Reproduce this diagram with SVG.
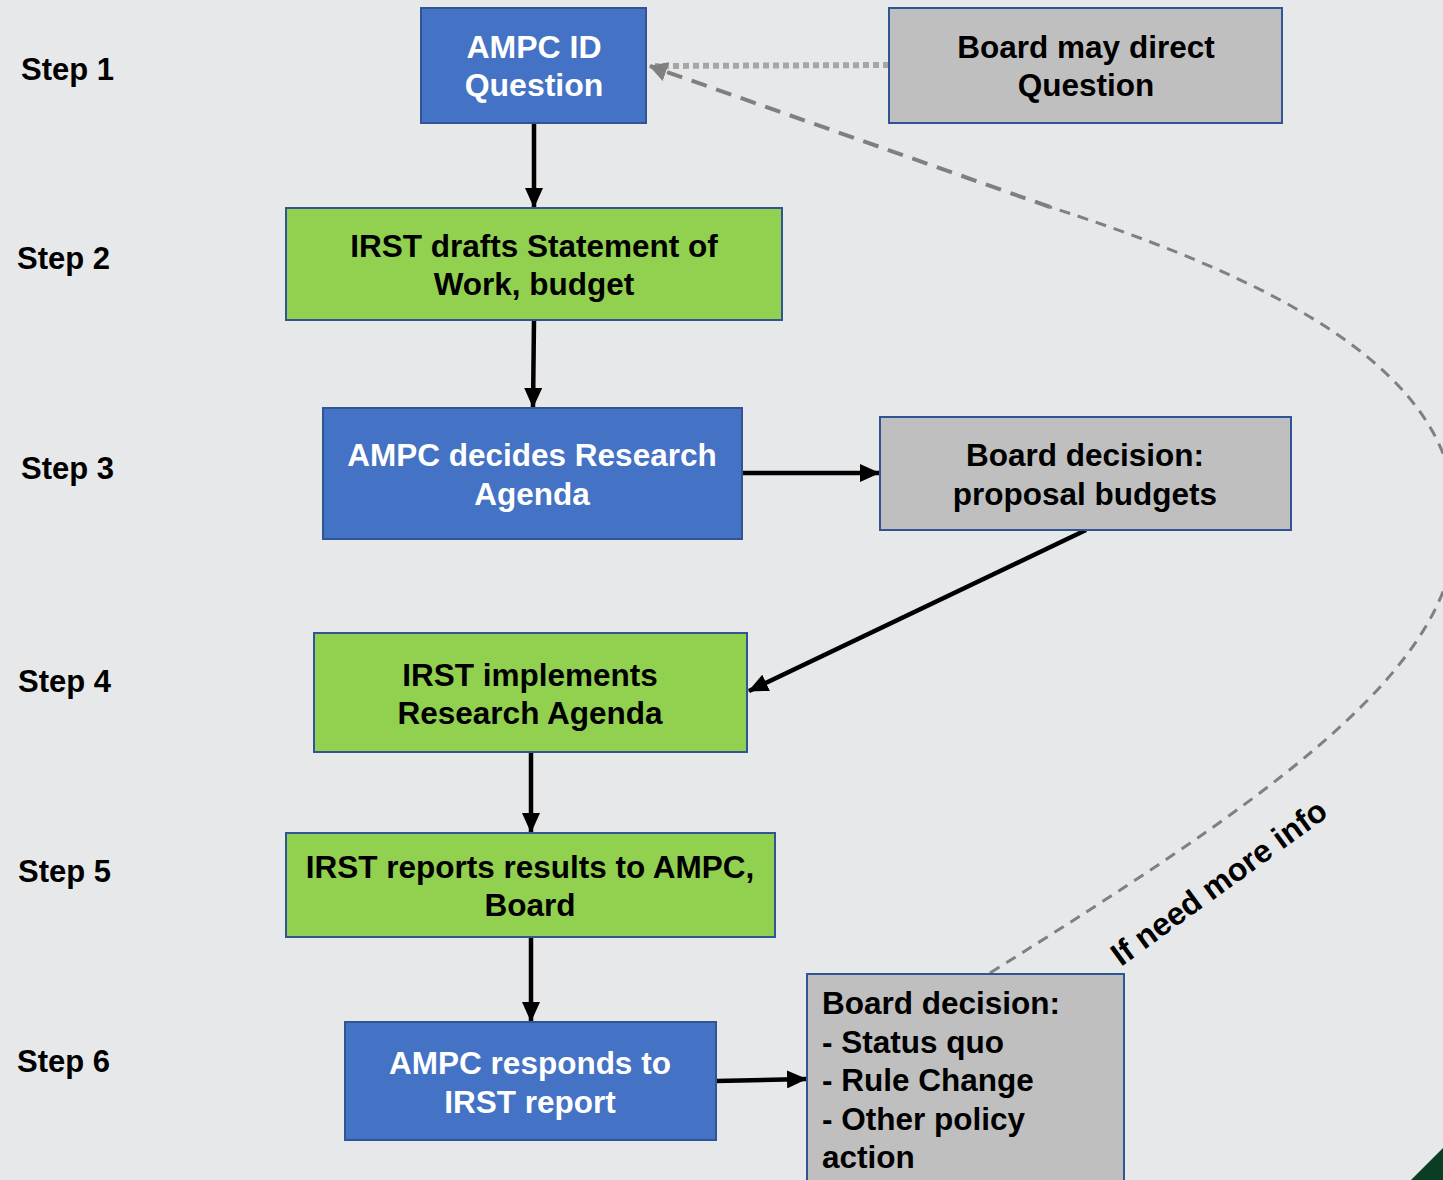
<svg xmlns="http://www.w3.org/2000/svg" width="1443" height="1180" viewBox="0 0 1443 1180">
<defs>
<style>
.t{font-family:"Liberation Sans",Arial,sans-serif;font-weight:bold;font-size:31.5px;text-anchor:middle}
.w{fill:#ffffff}
.k{fill:#000000}
.step{font-family:"Liberation Sans",Arial,sans-serif;font-weight:bold;font-size:31px;fill:#000}
.blue{fill:#4472c4;stroke:#2f5597;stroke-width:2}
.green{fill:#92d050;stroke:#2f5597;stroke-width:2}
.gray{fill:#bfbfbf;stroke:#2f5597;stroke-width:2}
.arr{stroke:#000;stroke-width:4.5;fill:none;marker-end:url(#ah)}
</style>
<marker id="ah" markerUnits="userSpaceOnUse" markerWidth="20" markerHeight="18" refX="19" refY="9" orient="auto">
<path d="M0,0 L20,9 L0,18 Z" fill="#000"/>
</marker>
<marker id="gh" markerUnits="userSpaceOnUse" markerWidth="18" markerHeight="20" refX="17" refY="10" orient="auto">
<path d="M0,0 L18,10 L0,20 Z" fill="#808080"/>
</marker>
</defs>
<rect x="0" y="0" width="1443" height="1180" fill="#e7e8ea"/>
<polygon points="1443,1148 1443,1180 1411,1180" fill="#0b3d24"/>

<g id="steps">
<text class="step" x="21" y="80">Step 1</text>
<text class="step" x="17" y="269">Step 2</text>
<text class="step" x="21" y="479">Step 3</text>
<text class="step" x="18" y="692">Step 4</text>
<text class="step" x="18" y="882">Step 5</text>
<text class="step" x="17" y="1072">Step 6</text>
</g>

<g id="connectors">
<path d="M889,65 L655,66" stroke="#a6a6a6" stroke-width="6" stroke-dasharray="6 4" fill="none"/>
<path d="M990,973 C1250,810 1445,680 1455,540 C1468,400 1340,300 1050,207" stroke="#808080" stroke-width="3" stroke-dasharray="11 8" fill="none"/>
<path d="M1050,207 L650,66" stroke="#7f7f7f" stroke-width="4" stroke-dasharray="16 10" fill="none" marker-end="url(#gh)"/>
<path class="arr" d="M534,123 L534,207"/>
<path class="arr" d="M534,320 L533,407"/>
<path class="arr" d="M742,473 L879,473"/>
<path class="arr" d="M1086,530 L749,691"/>
<path class="arr" d="M531,752 L531,832"/>
<path class="arr" d="M531,937 L531,1021"/>
<path class="arr" d="M716,1081 L806,1079"/>
<text class="t k" transform="translate(1121,967) rotate(-36)" style="text-anchor:start;font-size:32px">If need more info</text>
</g>

<g id="n1">
<rect class="blue" x="421" y="8" width="225" height="115"/>
<text class="t w" x="534" y="58" style="font-size:32px">AMPC ID</text>
<text class="t w" x="534" y="96" style="font-size:32px">Question</text>
</g>
<g id="n1b">
<rect class="gray" x="889" y="8" width="393" height="115"/>
<text class="t k" x="1086" y="58">Board may direct</text>
<text class="t k" x="1086" y="96">Question</text>
</g>
<g id="n2">
<rect class="green" x="286" y="208" width="496" height="112"/>
<text class="t k" x="534" y="257">IRST drafts Statement of</text>
<text class="t k" x="534" y="295">Work, budget</text>
</g>
<g id="n3">
<rect class="blue" x="323" y="408" width="419" height="131"/>
<text class="t w" x="532" y="466">AMPC decides Research</text>
<text class="t w" x="532" y="505">Agenda</text>
</g>
<g id="n3b">
<rect class="gray" x="880" y="417" width="411" height="113"/>
<text class="t k" x="1085" y="466">Board decision:</text>
<text class="t k" x="1085" y="505">proposal budgets</text>
</g>
<g id="n4">
<rect class="green" x="314" y="633" width="433" height="119"/>
<text class="t k" x="530" y="686">IRST implements</text>
<text class="t k" x="530" y="724">Research Agenda</text>
</g>
<g id="n5">
<rect class="green" x="286" y="833" width="489" height="104"/>
<text class="t k" x="530" y="878">IRST reports results to AMPC,</text>
<text class="t k" x="530" y="916">Board</text>
</g>
<g id="n6">
<rect class="blue" x="345" y="1022" width="371" height="118"/>
<text class="t w" x="530" y="1074">AMPC responds to</text>
<text class="t w" x="530" y="1113">IRST report</text>
</g>
<g id="n6b">
<rect class="gray" x="807" y="974" width="317" height="220"/>
<text class="t k" x="822" y="1014" style="text-anchor:start">Board decision:</text>
<text class="t k" x="822" y="1053" style="text-anchor:start">- Status quo</text>
<text class="t k" x="822" y="1091" style="text-anchor:start">- Rule Change</text>
<text class="t k" x="822" y="1130" style="text-anchor:start">- Other policy</text>
<text class="t k" x="822" y="1168" style="text-anchor:start">action</text>
</g>
</svg>
